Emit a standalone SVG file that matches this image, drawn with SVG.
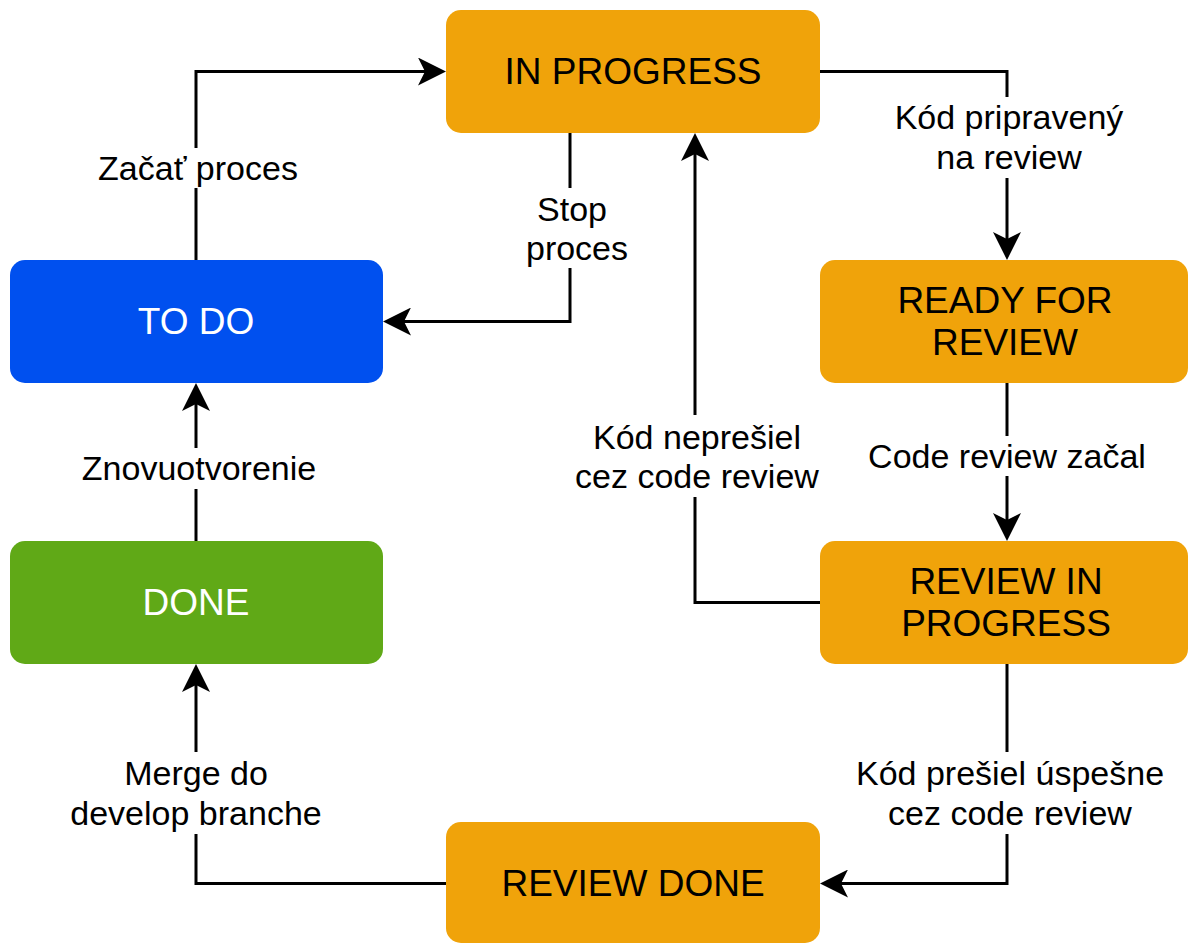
<svg xmlns="http://www.w3.org/2000/svg" width="1188" height="943" viewBox="0 0 1188 943">
<style>
.node-o{fill:#F0A30A}
.node-b{fill:#0050EF}
.node-g{fill:#60A917}
.nt{font-family:"Liberation Sans",Arial,sans-serif;font-size:37px;text-anchor:middle;fill:#000}
.nt.w{fill:#fff}
.edge{fill:none;stroke:#000;stroke-width:3}
.lbl{font-family:"Liberation Sans",Arial,sans-serif;font-size:34px;text-anchor:middle;fill:#000}
.bg{fill:#fff}
</style>
<defs>
<marker id="arr" viewBox="0 0 28 28" markerWidth="28" markerHeight="28" refX="20" refY="14" orient="auto" markerUnits="userSpaceOnUse">
<path d="M0,0 L28,14 L0,28 L7,14 Z" fill="#000"/>
</marker>
</defs>
<rect width="1188" height="943" fill="#fff"/>
<g id="connectors">
<path class="edge" d="M196,260 V71.5 H438" marker-end="url(#arr)"/>
<path class="edge" d="M570,133 V321.5 H391" marker-end="url(#arr)"/>
<path class="edge" d="M820,71.5 H1007 V252" marker-end="url(#arr)"/>
<path class="edge" d="M1007,383 V533" marker-end="url(#arr)"/>
<path class="edge" d="M820,602.5 H695 V141" marker-end="url(#arr)"/>
<path class="edge" d="M1007,664 V883.5 H828" marker-end="url(#arr)"/>
<path class="edge" d="M446,883.5 H196 V672" marker-end="url(#arr)"/>
<path class="edge" d="M196,541 V391" marker-end="url(#arr)"/>
<g id="labels">
<rect class="bg" x="96" y="148" width="204" height="40"/>
<text class="lbl" x="198" y="180">Začať proces</text>
<rect class="bg" x="524" y="188" width="106" height="80"/>
<text class="lbl" x="572" y="221">Stop</text>
<text class="lbl" x="577" y="260">proces</text>
<rect class="bg" x="892" y="97" width="236" height="81"/>
<text class="lbl" x="1009" y="129">Kód pripravený</text>
<text class="lbl" x="1009" y="169">na review</text>
<rect class="bg" x="864" y="436" width="286" height="40"/>
<text class="lbl" x="1007" y="468">Code review začal</text>
<rect class="bg" x="572" y="415" width="252" height="82"/>
<text class="lbl" x="697" y="449">Kód neprešiel</text>
<text class="lbl" x="697" y="488">cez code review</text>
<rect class="bg" x="848" y="752" width="316" height="82"/>
<text class="lbl" x="1010" y="785">Kód prešiel úspešne</text>
<text class="lbl" x="1010" y="825">cez code review</text>
<rect class="bg" x="78" y="448" width="242" height="41"/>
<text class="lbl" x="199" y="480">Znovuotvorenie</text>
<rect class="bg" x="66" y="752" width="260" height="82"/>
<text class="lbl" x="196" y="785">Merge do</text>
<text class="lbl" x="196" y="825">develop branche</text>
</g>
</g>
<g id="in-progress">
<rect class="node-o" x="446" y="10" width="374" height="123" rx="15"/>
<text class="nt" x="633" y="84">IN PROGRESS</text>
</g>
<g id="to-do">
<rect class="node-b" x="10" y="260" width="373" height="123" rx="15"/>
<text class="nt w" x="196" y="334">TO DO</text>
</g>
<g id="ready-for-review">
<rect class="node-o" x="820" y="260" width="368" height="123" rx="15"/>
<text class="nt" x="1005" y="313">READY FOR</text>
<text class="nt" x="1005" y="355">REVIEW</text>
</g>
<g id="review-in-progress">
<rect class="node-o" x="820" y="541" width="368" height="123" rx="15"/>
<text class="nt" x="1006" y="594">REVIEW IN</text>
<text class="nt" x="1006" y="636">PROGRESS</text>
</g>
<g id="done">
<rect class="node-g" x="10" y="541" width="373" height="123" rx="15"/>
<text class="nt w" x="196" y="615">DONE</text>
</g>
<g id="review-done">
<rect class="node-o" x="446" y="822" width="374" height="121" rx="15"/>
<text class="nt" x="633" y="896">REVIEW DONE</text>
</g>
</svg>
